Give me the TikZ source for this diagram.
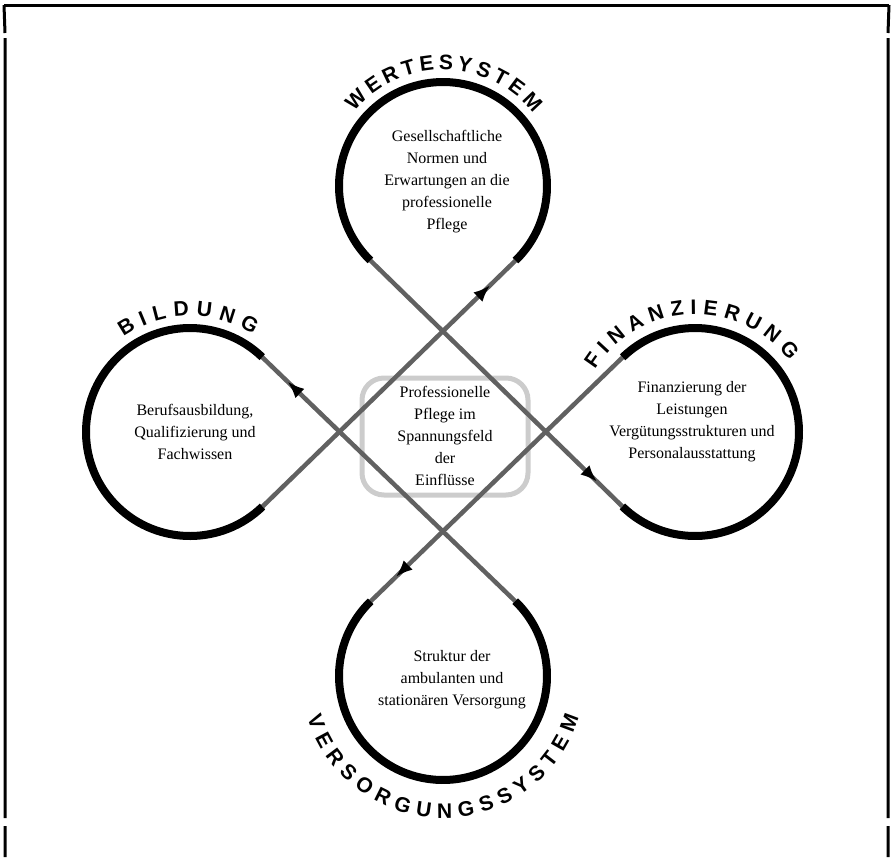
\documentclass[tikz,border=0pt]{standalone}
\usepackage{fontspec}
\setmainfont{Liberation Serif}
\setsansfont{Liberation Sans}
\usetikzlibrary{arrows.meta,decorations.markings,decorations.text}
\begin{document}
\begin{tikzpicture}[x=1pt,y=1pt,
  loopline/.style={line width=8pt,black},
  tailline/.style={line width=4.5pt,black!62},
  flowarrow/.style={postaction={decorate},decoration={markings,
     mark=at position 0.9 with {\arrow[black]{Latex[length=17pt,width=13pt]}}}},
  body/.style={align=center,font=\fontsize{16}{22}\selectfont},
  frameline/.style={line width=3pt,black},
  centerring/.style={line width=5pt,black!20,rounded corners=22pt},
  arclabel/.style={decorate,decoration={text along path,text align={fit to path},
     text={|\fontsize{21}{21}\sffamily\bfseries|#1}}}
]
\useasboundingbox (0,0) rectangle (893,-857);
% frame
\coordinate (f1) at (4,-5); \coordinate (f2) at (889,-5);
\draw[frameline] (f1) -- (f2);
\draw[frameline] (f1) -- (5,-33) (5,-38) -- (5,-818) (5,-826) -- (5,-857);
\draw[frameline] (f2) -- (888,-33) (888,-38) -- (888,-818) (888,-826) -- (888,-857);
% circle centres
\coordinate (T) at (443,-186);
\coordinate (L) at (190,-432);
\coordinate (B) at (443,-676);
\coordinate (R) at (695,-432);
% tangent points
\path (T) ++(-45.8:104pt) coordinate (tA) (T) ++(225.7:104pt) coordinate (tB);
\path (L) ++(46.0:104pt) coordinate (lA) (L) ++(314.2:104pt) coordinate (lB);
\path (B) ++(134.1:104pt) coordinate (bA) (B) ++(46.0:104pt) coordinate (bB);
\path (R) ++(225.7:104pt) coordinate (rA) (R) ++(134.1:104pt) coordinate (rB);
% centre ring
\draw[centerring] (362,-378) rectangle (528,-495);
% tails
\draw[tailline,flowarrow] (lB) -- (tA);
\draw[tailline,flowarrow] (bB) -- (lA);
\draw[tailline,flowarrow] (rB) -- (bA);
\draw[tailline,flowarrow] (tB) -- (rA);
% loops
\draw[loopline] (tA) arc[start angle=-45.8,end angle=225.7,radius=104pt];
\draw[loopline] (lA) arc[start angle=46.0,end angle=314.2,radius=104pt];
\draw[loopline] (bA) arc[start angle=134.1,end angle=406.0,radius=104pt];
\draw[loopline] (rA) arc[start angle=225.7,end angle=494.1,radius=104pt];
% curved labels
\path[arclabel=WERTESYSTEM] (T) ++(140:116pt) arc[start angle=140,end angle=39,radius=116pt];
\path[arclabel=BILDUNG] (L) ++(125:116pt) arc[start angle=125,end angle=57,radius=116pt];
\path[arclabel=FINANZIERUNG] (R) ++(148:118pt) arc[start angle=148,end angle=37,radius=118pt];
\path[arclabel=VERSORGUNGSSYSTEM] (B) ++(197:142pt) arc[start angle=197,end angle=343,radius=142pt];
% texts
\node[body] (ttext) at (447,-182) {Gesellschaftliche\\Normen und\\Erwartungen an die\\professionelle\\Pflege};
\node[body] (ltext) at (195,-432) {Berufsausbildung,\\Qualifizierung und\\Fachwissen};
\node[body] (rtext) at (692,-422) {Finanzierung der\\Leistungen\\Vergütungsstrukturen und\\Personalausstattung};
\node[body] (btext) at (452,-680) {Struktur der\\ambulanten und\\stationären Versorgung};
\node[body] (ctext) at (445,-436) {Professionelle\\Pflege im\\Spannungsfeld\\der\\Einflüsse};
\end{tikzpicture}
\end{document}
